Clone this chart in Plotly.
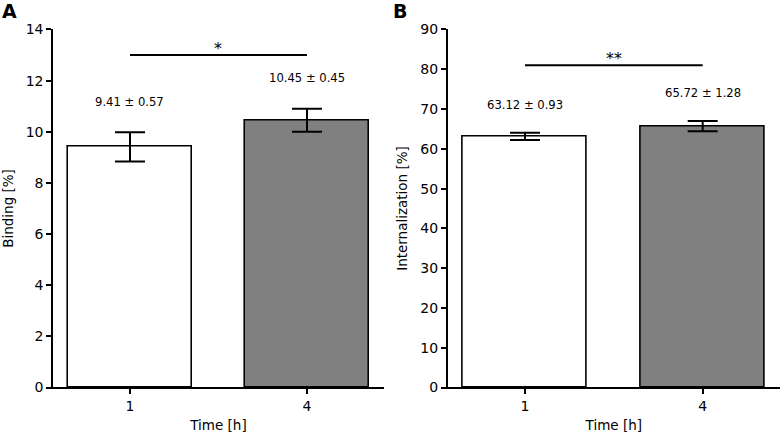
import plotly.graph_objects as go

# data
time_labels = ["1", "4"]
binding_mean = [9.41, 10.45]
binding_sem = [0.57, 0.45]
intern_mean = [63.12, 65.72]
intern_sem = [0.93, 1.28]
bar_colors = ["white", "#808080"]
sig_marks = ["*", "**"]
sig_levels = [13, 81]

xpos = [0, 1]

fig = go.Figure()

panels = [
    ("x", "y", binding_mean, binding_sem, sig_levels[0], sig_marks[0], 1.2),
    ("x2", "y2", intern_mean, intern_sem, sig_levels[1], sig_marks[1], 7.0),
]

annotations = []
for xa, ya, mean, sem, sig_y, sig_txt, off in panels:
    fig.add_trace(go.Bar(
        x=xpos, y=mean, width=0.7, xaxis=xa, yaxis=ya,
        marker=dict(color=bar_colors, line=dict(color="black", width=1.6)),
        error_y=dict(type="data", array=sem, visible=True, color="black", thickness=2, width=15),
        showlegend=False, hoverinfo="skip",
    ))
    # significance bar
    fig.add_trace(go.Scatter(
        x=xpos, y=[sig_y, sig_y], xaxis=xa, yaxis=ya, mode="lines",
        line=dict(color="black", width=2), showlegend=False, hoverinfo="skip",
    ))
    annotations.append(dict(
        x=0.5, y=sig_y, xref=xa, yref=ya, text=sig_txt, showarrow=False,
        yanchor="bottom", font=dict(size=16, color="black"), yshift=-5,
    ))
    # mean ± sem labels above the bars
    for xi, m, s in zip(xpos, mean, sem):
        annotations.append(dict(
            x=xi, y=m + s + off, xref=xa, yref=ya, text=f"{m:.2f} ± {s:.2f}",
            showarrow=False, yanchor="middle", font=dict(size=11.6, color="black"),
        ))

annotations.append(dict(x=0.0, y=1.0, xref="paper", yref="paper", text="<b>A</b>", yshift=2,
                        showarrow=False, xanchor="left", yanchor="top", font=dict(size=19, color="black")))
annotations.append(dict(x=0.5, y=1.0, xref="paper", yref="paper", text="<b>B</b>", yshift=2,
                        showarrow=False, xanchor="left", yanchor="top", font=dict(size=19, color="black")))

axis_common = dict(showline=True, linecolor="black", linewidth=1.5, mirror=False,
                   ticks="outside", ticklen=5, tickwidth=1.5, tickcolor="black",
                   showgrid=False, zeroline=False, tickfont=dict(size=14, color="black"),
                   automargin=False)

fig.update_layout(
    width=782, height=435,
    margin=dict(l=0, r=0, t=0, b=0),
    template="none",
    paper_bgcolor="white", plot_bgcolor="white",
    font=dict(family="DejaVu Sans", color="black"),
    bargap=0,
    annotations=annotations,
    xaxis=dict(domain=[0.0678, 0.491], range=[-0.435, 1.435], tickvals=xpos, ticktext=time_labels,
               ticklabelstandoff=0,
               title=dict(text="Time [h]", font=dict(size=13.5), standoff=8), anchor="y", **axis_common),
    yaxis=dict(domain=[0.1092, 0.9322], range=[0, 14], dtick=2,
               title=dict(text="Binding [%]", font=dict(size=13.5), standoff=12), anchor="x", **axis_common),
    xaxis2=dict(domain=[0.5725, 0.9974], range=[-0.435, 1.435], tickvals=xpos, ticktext=time_labels,
                ticklabelstandoff=0,
                title=dict(text="Time [h]", font=dict(size=13.5), standoff=8), anchor="y2", **axis_common),
    yaxis2=dict(domain=[0.1092, 0.9322], range=[0, 90], dtick=10,
                title=dict(text="Internalization [%]", font=dict(size=13.5), standoff=10), anchor="x2", **axis_common),
)

fig.write_html("out.html", config={"displayModeBar": False},
               post_script="document.body.style.margin='0';")
